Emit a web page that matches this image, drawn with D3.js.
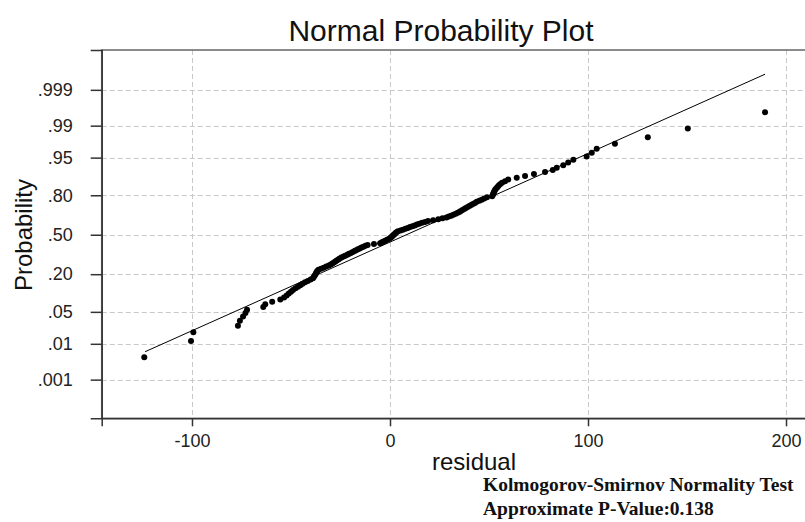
<!DOCTYPE html>
<html>
<head>
<meta charset="utf-8">
<script src="https://cdn.jsdelivr.net/npm/d3@7"></script>
<style>
  html, body { margin: 0; padding: 0; background: #fff; overflow: hidden; }
  svg { display: block; }
</style>
</head>
<body>
<div id="chart"></div>
<script>
// ---------------- data ----------------
const residuals = [
  -124.1, -100.5, -99.3, -76.8, -75.8, -74.2, -73.0, -72.2, -64.0, -63.0, -59.5,
  -55.4, -53.5, -52.2, -51.1, -50.0, -49.0, -47.7, -46.5, -45.3, -44.2,
  -42.9, -41.5, -40.1, -38.9, -38.5, -38.1, -37.7, -37.4, -37.0, -36.7,
  -36.1, -34.8, -33.5, -32.2, -30.9, -29.9, -29.1, -28.3, -27.6, -26.9,
  -26.1, -25.4, -24.5, -23.5, -22.6, -21.6, -20.7, -19.7, -18.8, -17.9,
  -17.1, -16.2, -15.3, -14.4, -13.4, -12.4, -11.3, -8.1, -5.0, -4.1,
  -3.3, -2.4, -1.5, -0.6, 0.1, 0.6, 1.0, 1.5, 1.9, 2.4,
  2.8, 3.3, 4.0, 5.3, 6.5, 7.8, 9.0, 10.1, 11.3, 12.5,
  13.6, 14.8, 16.2, 17.7, 19.2, 21.8, 24.4, 26.5, 28.5, 29.7,
  30.9, 32.0, 33.2, 34.2, 35.0, 35.8, 36.6, 37.5, 38.3, 39.2,
  40.1, 41.0, 41.9, 42.9, 43.8, 45.1, 46.3, 47.6, 49.0, 51.6,
  51.9, 52.2, 52.4, 52.7, 53.0, 53.6, 54.2, 54.8,
  55.6, 56.6, 58.1, 59.7, 64.0, 68.2, 72.7, 78.3, 82.2, 84.2,
  87.5, 90.0, 92.6, 99.3, 101.9, 104.4, 113.6, 130.2, 150.4, 189.4
];
const yTickProbs  = [0.001, 0.01, 0.05, 0.20, 0.50, 0.80, 0.95, 0.99, 0.999];
const yTickLabels = [".001", ".01", ".05", ".20", ".50", ".80", ".95", ".99", ".999"];
const xTicks      = [-100, 0, 100, 200];
const fitMean = 8.3;      // fitted normal line: centre
const fitSD   = 52.9;     // fitted normal line: spread
const titleText = "Normal Probability Plot";
const xLabel = "residual";
const yLabel = "Probability";
const testLines = ["Kolmogorov-Smirnov Normality Test", "Approximate P-Value:0.138"];

// ---------------- helpers ----------------
function normInv(p) {
  const a = [-3.969683028665376e+01, 2.209460984245205e+02, -2.759285104469687e+02,
             1.383577518672690e+02, -3.066479806614716e+01, 2.506628277459239e+00];
  const b = [-5.447609879822406e+01, 1.615858368580409e+02, -1.556989798598866e+02,
             6.680131188771972e+01, -1.328068155288572e+01];
  const c = [-7.784894002430293e-03, -3.223964580411365e-01, -2.400758277161838e+00,
             -2.549732539343734e+00, 4.374664141464968e+00, 2.938163982698783e+00];
  const d = [7.784695709041462e-03, 3.224671290700398e-01, 2.445134137142996e+00,
             3.754408661907416e+00];
  const pl = 0.02425, ph = 1 - pl;
  let q, r;
  if (p < pl) {
    q = Math.sqrt(-2 * Math.log(p));
    return (((((c[0]*q+c[1])*q+c[2])*q+c[3])*q+c[4])*q+c[5]) /
           ((((d[0]*q+d[1])*q+d[2])*q+d[3])*q+1);
  } else if (p <= ph) {
    q = p - 0.5; r = q * q;
    return (((((a[0]*r+a[1])*r+a[2])*r+a[3])*r+a[4])*r+a[5])*q /
           (((((b[0]*r+b[1])*r+b[2])*r+b[3])*r+b[4])*r+1);
  } else {
    q = Math.sqrt(-2 * Math.log(1 - p));
    return -(((((c[0]*q+c[1])*q+c[2])*q+c[3])*q+c[4])*q+c[5]) /
            ((((d[0]*q+d[1])*q+d[2])*q+d[3])*q+1);
  }
}

// ---------------- layout ----------------
const W = 805, H = 522;
const plotL = 101.7, plotR = 807, plotT = 50, plotB = 418.3;

const svg = d3.select("#chart").append("svg")
  .attr("width", W).attr("height", H)
  .style("font-family", "'Liberation Sans', Arial, sans-serif");

const x = d3.scaleLinear().domain([-145.6, 210.6]).range([plotL, plotR]);
const y = d3.scaleLinear().domain([-3.915, 3.94]).range([plotB, plotT]); // normal-quantile axis

// Blom plotting positions for the sorted residuals
const n = residuals.length;
const pts = residuals.slice().sort((a, b) => a - b)
  .map((v, i) => ({ x: v, z: normInv((i + 1 - 0.375) / (n + 0.25)) }));

// gridlines
const grid = svg.append("g").attr("stroke", "#c8c8c8").attr("stroke-width", 1)
  .attr("stroke-dasharray", "5,3");
grid.selectAll("line.h").data(yTickProbs).join("line")
  .attr("x1", plotL).attr("x2", plotR)
  .attr("y1", d => Math.round(y(normInv(d))) + 0.5)
  .attr("y2", d => Math.round(y(normInv(d))) + 0.5);
grid.selectAll("line.v").data(xTicks).join("line")
  .attr("y1", plotT).attr("y2", plotB)
  .attr("x1", d => Math.round(x(d)) + 0.5)
  .attr("x2", d => Math.round(x(d)) + 0.5);

// frame
svg.append("rect").attr("x", plotL).attr("y", plotT)
  .attr("width", plotR - plotL).attr("height", plotB - plotT)
  .attr("fill", "none").attr("stroke", "#666").attr("stroke-width", 1.5);

// axes
const yAxis = d3.axisLeft(y)
  .tickValues(yTickProbs.map(normInv))
  .tickFormat((d, i) => yTickLabels[i])
  .tickSize(11).tickPadding(18);
const gy = svg.append("g").attr("transform", `translate(${plotL},0)`).call(yAxis);
gy.select(".domain").attr("stroke", "#333").attr("stroke-width", 1.5);
gy.selectAll(".tick line").attr("stroke", "#333").attr("stroke-width", 1.5);
gy.selectAll(".tick text").attr("font-size", 18).attr("fill", "#222")
  .attr("font-family", "'Liberation Sans', Arial, sans-serif");

const xAxis = d3.axisBottom(x).tickValues(xTicks).tickFormat(d3.format("d"))
  .tickSize(8).tickPadding(8);
const gx = svg.append("g").attr("transform", `translate(0,${plotB})`).call(xAxis);
gx.select(".domain").attr("stroke", "#333").attr("stroke-width", 1.5);
gx.selectAll(".tick line").attr("stroke", "#333").attr("stroke-width", 1.5);
gx.selectAll(".tick text").attr("font-size", 18).attr("fill", "#222")
  .attr("font-family", "'Liberation Sans', Arial, sans-serif")
  .text(d => d < 0 ? "-" + Math.abs(d) : d);

// fitted line
const xMin = d3.min(residuals), xMax = d3.max(residuals);
const fit = [xMin + 0.4, xMax].map(v => ({ x: v, z: (v - fitMean) / fitSD }));
svg.append("path").datum(fit)
  .attr("d", d3.line().x(d => x(d.x)).y(d => y(d.z)))
  .attr("stroke", "#000").attr("stroke-width", 1).attr("fill", "none");

// points
svg.append("g").selectAll("circle").data(pts).join("circle")
  .attr("cx", d => x(d.x)).attr("cy", d => y(d.z)).attr("r", 3)
  .attr("fill", "#000");

// texts
svg.append("text").attr("x", 441).attr("y", 41).attr("text-anchor", "middle")
  .attr("font-size", 30).attr("fill", "#111").text(titleText);
svg.append("text").attr("x", 474).attr("y", 470).attr("text-anchor", "middle")
  .attr("font-size", 24).attr("fill", "#111").text(xLabel);
svg.append("text").attr("transform", "translate(23,235) rotate(-90)")
  .attr("text-anchor", "middle").attr("dominant-baseline", "central")
  .attr("font-size", 24).attr("fill", "#111").text(yLabel);
svg.append("g").selectAll("text").data(testLines).join("text")
  .attr("x", 483).attr("y", (d, i) => 491 + i * 24)
  .attr("font-family", "'Liberation Serif', 'Times New Roman', serif")
  .attr("font-weight", "bold").attr("font-size", 19.5).attr("fill", "#111")
  .text(d => d);
</script>
</body>
</html>
